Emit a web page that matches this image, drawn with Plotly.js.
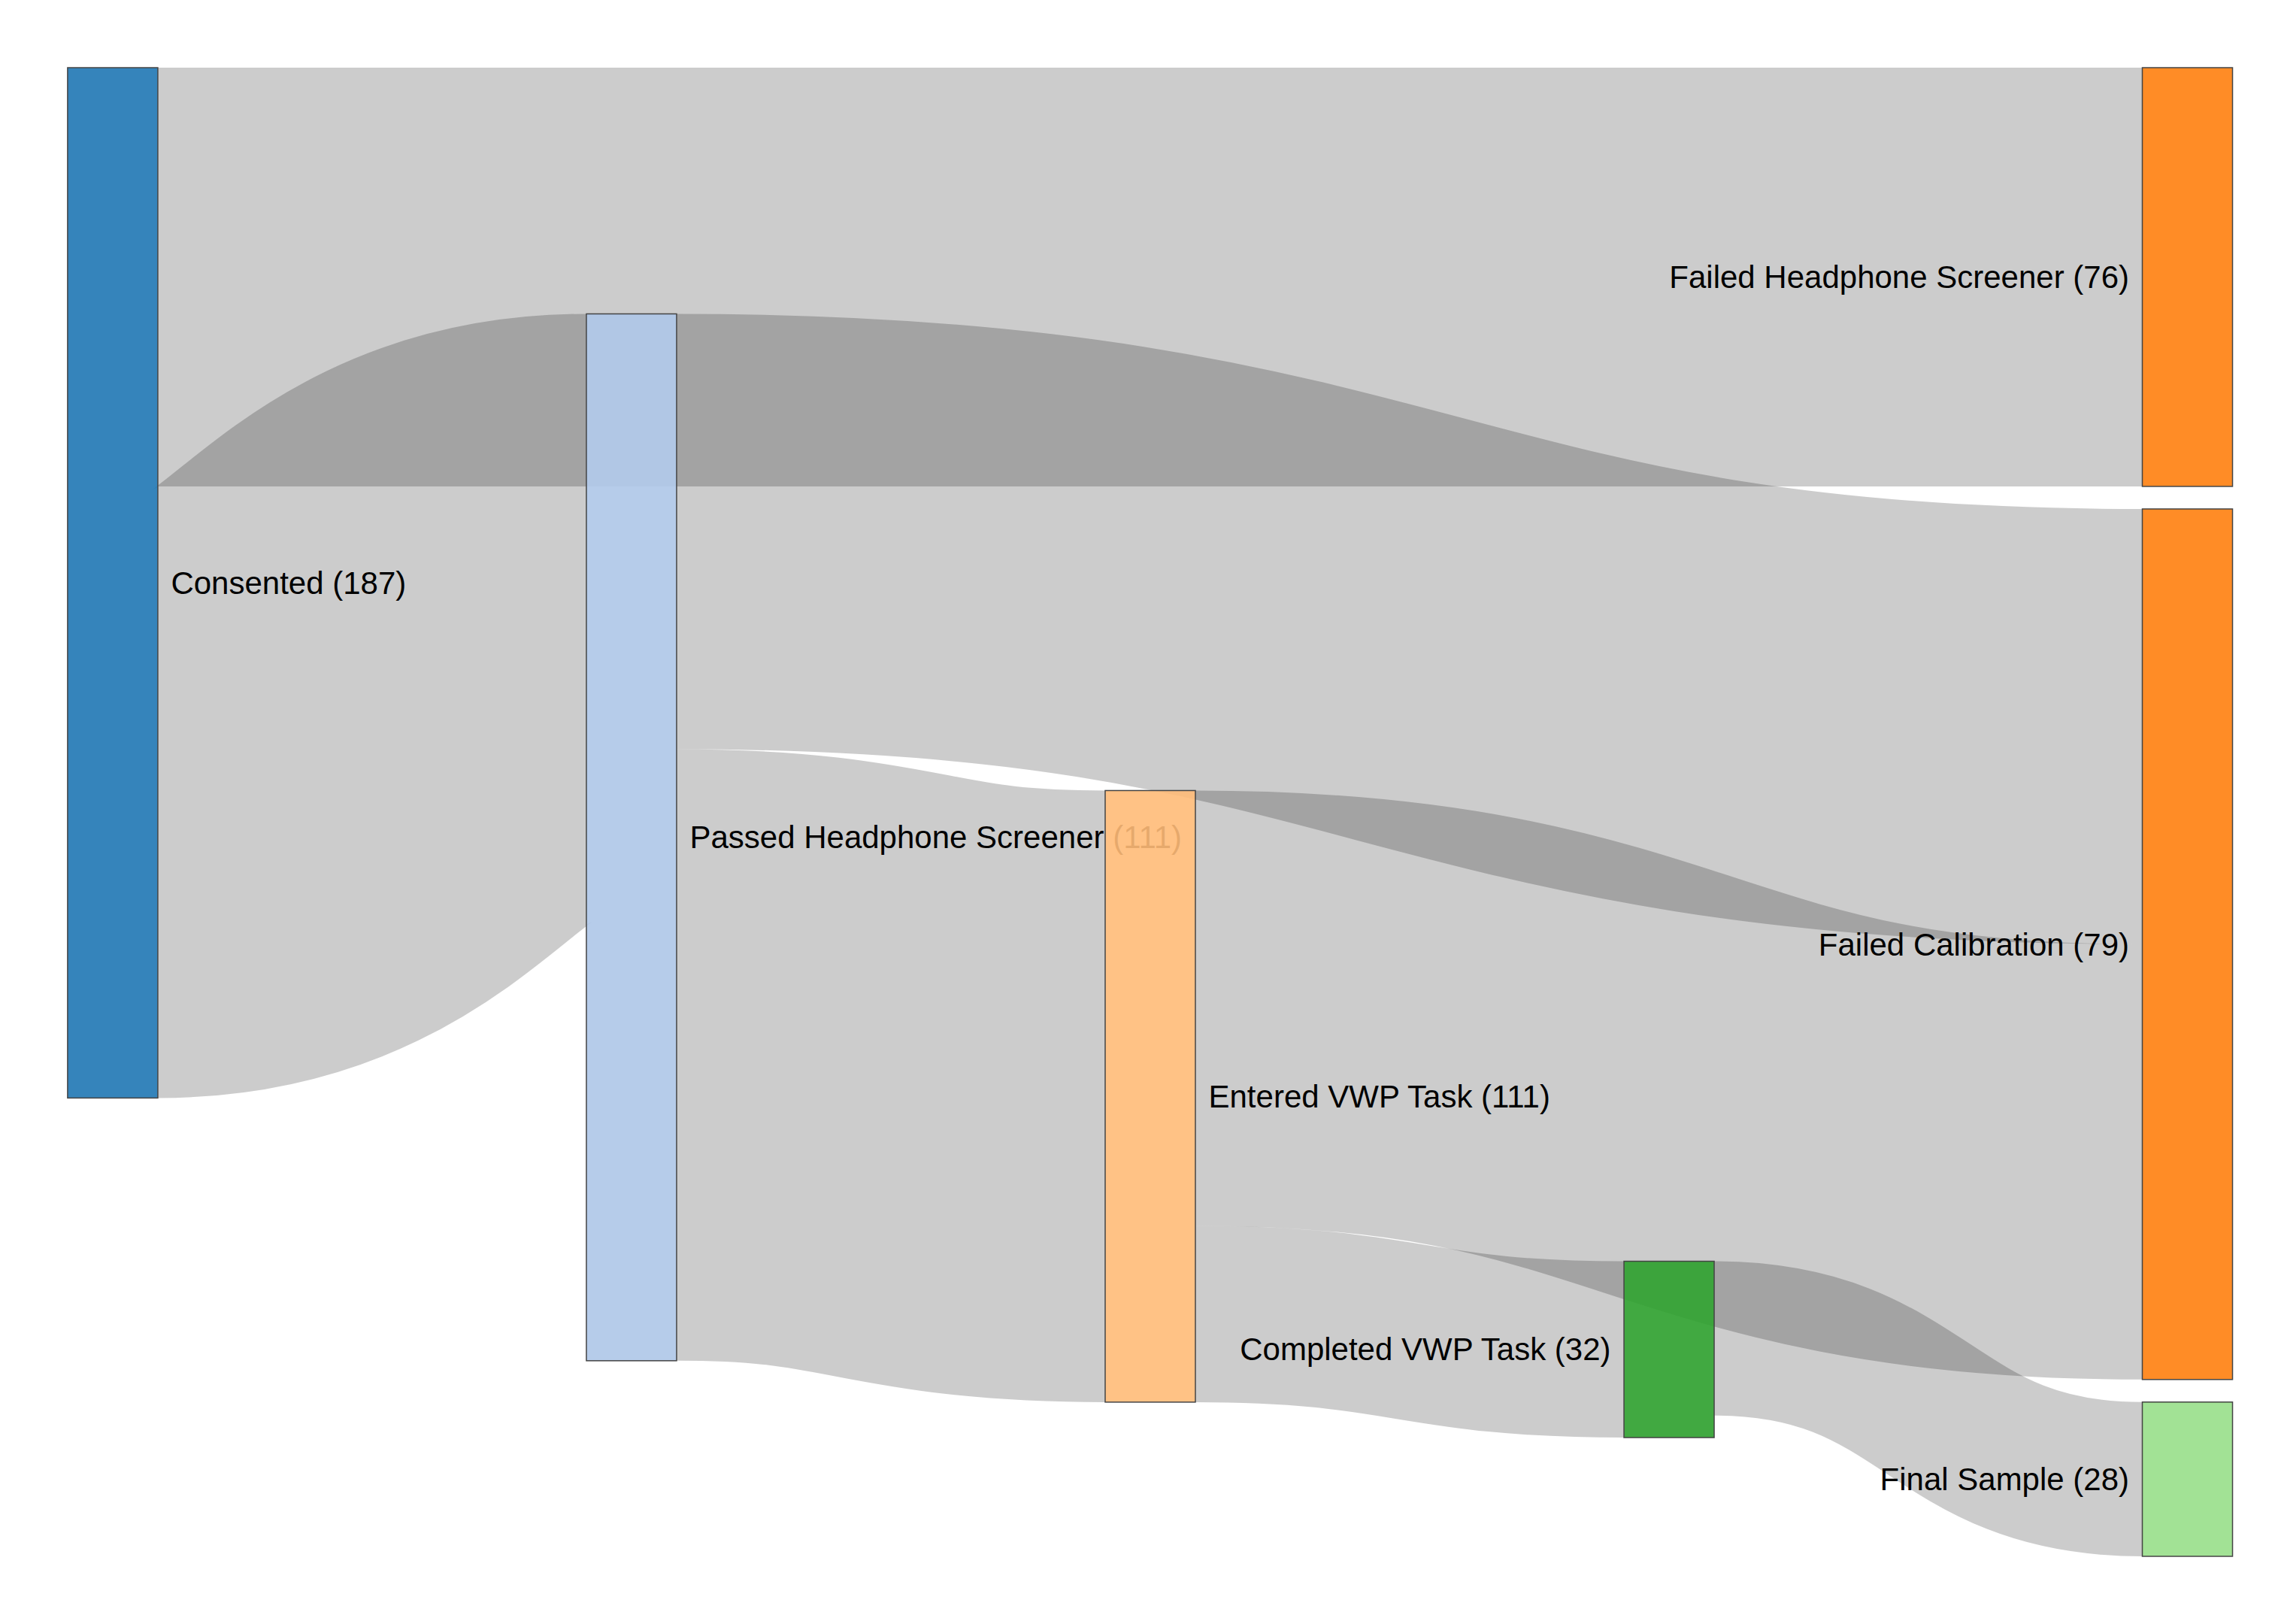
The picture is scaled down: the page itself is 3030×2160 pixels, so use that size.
<!DOCTYPE html>
<html>
<head>
<meta charset="utf-8">
<script src="https://cdn.plot.ly/plotly-3.0.1.min.js"></script>
<style>html,body{margin:0;padding:0;background:#fff;}</style>
</head>
<body>
<div id="chart" style="width:3030px;height:2160px;"></div>
<script>
// ---- data ----
const nodeNames  = ["Consented", "Passed Headphone Screener", "Failed Headphone Screener",
                    "Entered VWP Task", "Failed Calibration", "Completed VWP Task", "Final Sample"];
const nodeCounts = [187, 111, 76, 111, 79, 32, 28];
const linkSource = [0, 0, 1, 1, 3, 3, 5];
const linkTarget = [2, 1, 4, 3, 4, 5, 6];
const linkValue  = [76, 111, 79, 111, 79, 32, 28];

// ---- styling / arrangement ----
const nodeColors = ["rgba(31,119,180,0.9)", "rgba(174,199,232,0.9)", "rgba(255,127,14,0.9)",
                    "rgba(255,187,120,0.9)", "rgba(255,127,14,0.9)", "rgba(44,160,44,0.9)",
                    "rgba(152,223,138,0.9)"];
const nodeX = [0.0208, 0.2604, 0.979, 0.5, 0.979, 0.7396, 0.979];
const nodeY = [0.3, 0.517, 0.1, 0.691, 0.5, 0.861, 0.9];

const FONT = "Liberation Sans, Arial, Helvetica, sans-serif";

const data = [{
  type: "sankey",
  orientation: "h",
  arrangement: "snap",
  node: {
    label: nodeNames.map((n, i) => n + " (" + nodeCounts[i] + ")"),
    color: nodeColors,
    x: nodeX,
    y: nodeY,
    pad: 30,
    thickness: 120,
    line: {color: "#444", width: 1.5}
  },
  link: {
    source: linkSource,
    target: linkTarget,
    value: linkValue,
    color: "rgba(0,0,0,0.2)"
  },
  textfont: {family: FONT, size: 42, color: "#000", shadow: "none"}
}];

const layout = {
  width: 3030,
  height: 2160,
  margin: {l: 90, r: 60, t: 90, b: 90},
  paper_bgcolor: "#fff",
  font: {family: FONT, size: 42, color: "#000"}
};

Plotly.newPlot("chart", data, layout, {displayModeBar: false, staticPlot: true}).then(gd => {
  // links drawn as thick stroked centre curves (classic sankey ribbon look)
  gd.querySelectorAll(".sankey-link").forEach(p => {
    const d = p.__data__;
    if (!d || !d.link || !d.link.source || !d.link.target) return;
    const l = d.link;
    const x0 = l.source.x1, x1 = l.target.x0;
    const xm = x0 + (x1 - x0) * 0.5;
    const y0 = l.y0, y1 = l.y1;
    p.setAttribute("d", "M" + x0 + "," + y0 + "C" + xm + "," + y0 + " " + xm + "," + y1 + " " + x1 + "," + y1);
    p.style.fill = "none";
    p.style.stroke = "rgb(0,0,0)";
    p.style.strokeOpacity = 0.2;
    p.style.strokeWidth = Math.max(1, l.width) + "px";
  });
  // labels: right of nodes in the left half, left of nodes in the right half
  const W = gd._fullLayout._size.w;
  const OFF = 17.5;
  gd.querySelectorAll(".sankey-node").forEach(g => {
    const d = g.__data__;
    const t = g.querySelector(".node-label");
    if (!d || !t || !d.node) return;
    const cx = (d.node.x0 + d.node.x1) / 2;
    const left = cx > W / 2 + 1;
    const m = /translate\(\s*([-\d.e]+)[ ,]+([-\d.e]+)\s*\)/.exec(t.getAttribute("transform") || "");
    const y = m ? parseFloat(m[2]) : d.visibleHeight / 2;
    t.setAttribute("text-anchor", left ? "end" : "start");
    t.style.textAnchor = left ? "end" : "start";
    t.setAttribute("transform", "translate(" + (left ? -OFF : d.visibleWidth + OFF) + "," + y + ")");
  });
});
</script>
</body>
</html>
